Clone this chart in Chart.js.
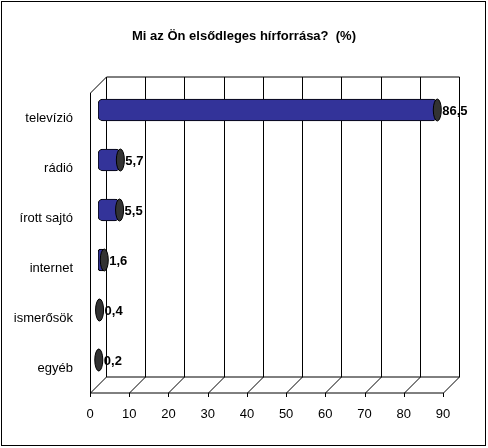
<!DOCTYPE html>
<html><head><meta charset="utf-8">
<script src="https://cdn.jsdelivr.net/npm/chart.js@4"></script>
<style>html,body{margin:0;padding:0;background:#fff}#w{width:488px;height:448px;position:relative}
#b{position:absolute;left:1px;top:1px;width:483px;height:443px;border:1px solid #000;pointer-events:none}</style>
</head><body><div id="w"><canvas id="c" width="488" height="448"></canvas><div id="b"></div></div>
<script>
const categories = ["televízió","rádió","írott sajtó","internet","ismerősök","egyéb"];
const values = [86.5,5.7,5.5,1.6,0.4,0.2];
const valueLabels = ["86,5","5,7","5,5","1,6","0,4","0,2"];
const xTicks = [0,10,20,30,40,50,60,70,80,90];
const titleText = 'Mi az Ön elsődleges hírforrása?  (%)';
const DX=16, DY=-16, BX=8, BY=-8;

const wall = {id:'wall', beforeDatasetsDraw(ch){
  const c=ch.ctx, a=ch.chartArea, xs=ch.scales.x;
  c.save(); c.font='bold 13px Arial'; c.fillStyle='#000'; c.textAlign='center'; c.textBaseline='middle';
  c.fillText(titleText,244,36); c.restore();
  c.save(); c.strokeStyle='#000'; c.lineWidth=1;
  const t=a.top, b=a.bottom;
  xTicks.forEach(v=>{const x=Math.round(xs.getPixelForValue(v))+0.5;
    c.beginPath(); c.moveTo(x+DX,t+DY); c.lineTo(x+DX,b+DY); c.lineTo(x,b); c.stroke();});
  const l=Math.round(xs.getPixelForValue(0))+0.5, r=Math.round(xs.getPixelForValue(90))+0.5;
  c.beginPath(); c.moveTo(l,t); c.lineTo(l+DX,t+DY); c.lineTo(r+DX,t+DY); c.stroke();
  c.beginPath(); c.moveTo(l,t); c.lineTo(l,b); c.lineTo(r,b); c.stroke();
  c.beginPath(); c.moveTo(l+DX,b+DY); c.lineTo(r+DX,b+DY); c.stroke();
  xTicks.forEach(v=>{const x=Math.round(xs.getPixelForValue(v))+0.5;c.beginPath();c.moveTo(x,b);c.lineTo(x,b+4);c.stroke();});
  c.restore();
  c.save(); c.translate(BX,BY);
}, afterDatasetsDraw(ch){
  const c=ch.ctx; const meta=ch.getDatasetMeta(0);
  meta.data.forEach((el,i)=>{
    const h=el.height/2;
    c.beginPath(); c.ellipse(el.x,el.y,4,h,0,0,Math.PI*2);
    c.fillStyle='#333'; c.fill(); c.strokeStyle='#000'; c.lineWidth=1; c.stroke();
  });
  c.restore();
  c.save(); c.font='bold 13px Arial'; c.fillStyle='#000'; c.textBaseline='middle';
  meta.data.forEach((el,i)=>{c.fillText(valueLabels[i], el.x+BX+5, el.y+BY+1);});
  c.restore();
}};

new Chart(document.getElementById('c'),{
  type:'bar',
  data:{labels:categories,datasets:[{data:values,backgroundColor:'#333399',borderColor:'#000',borderWidth:1,borderRadius:5,borderSkipped:false,barThickness:22}]},
  options:{indexAxis:'y',responsive:false,animation:false,
    layout:{padding:{left:0,right:45,top:93,bottom:0}},
    plugins:{legend:{display:false},tooltip:{enabled:false},title:{display:false}},
    scales:{
      x:{min:0,max:90,grid:{display:false},border:{display:false},
        ticks:{stepSize:10,color:'#000',font:{family:'Arial',size:13},padding:6},
        afterFit(s){s.height=55;}},
      y:{grid:{display:false},border:{display:false},
        ticks:{color:'#000',font:{family:'Arial',size:13},padding:9},
        afterFit(s){s.width=90;}}
    }},
  plugins:[wall]
});
</script></body></html>
